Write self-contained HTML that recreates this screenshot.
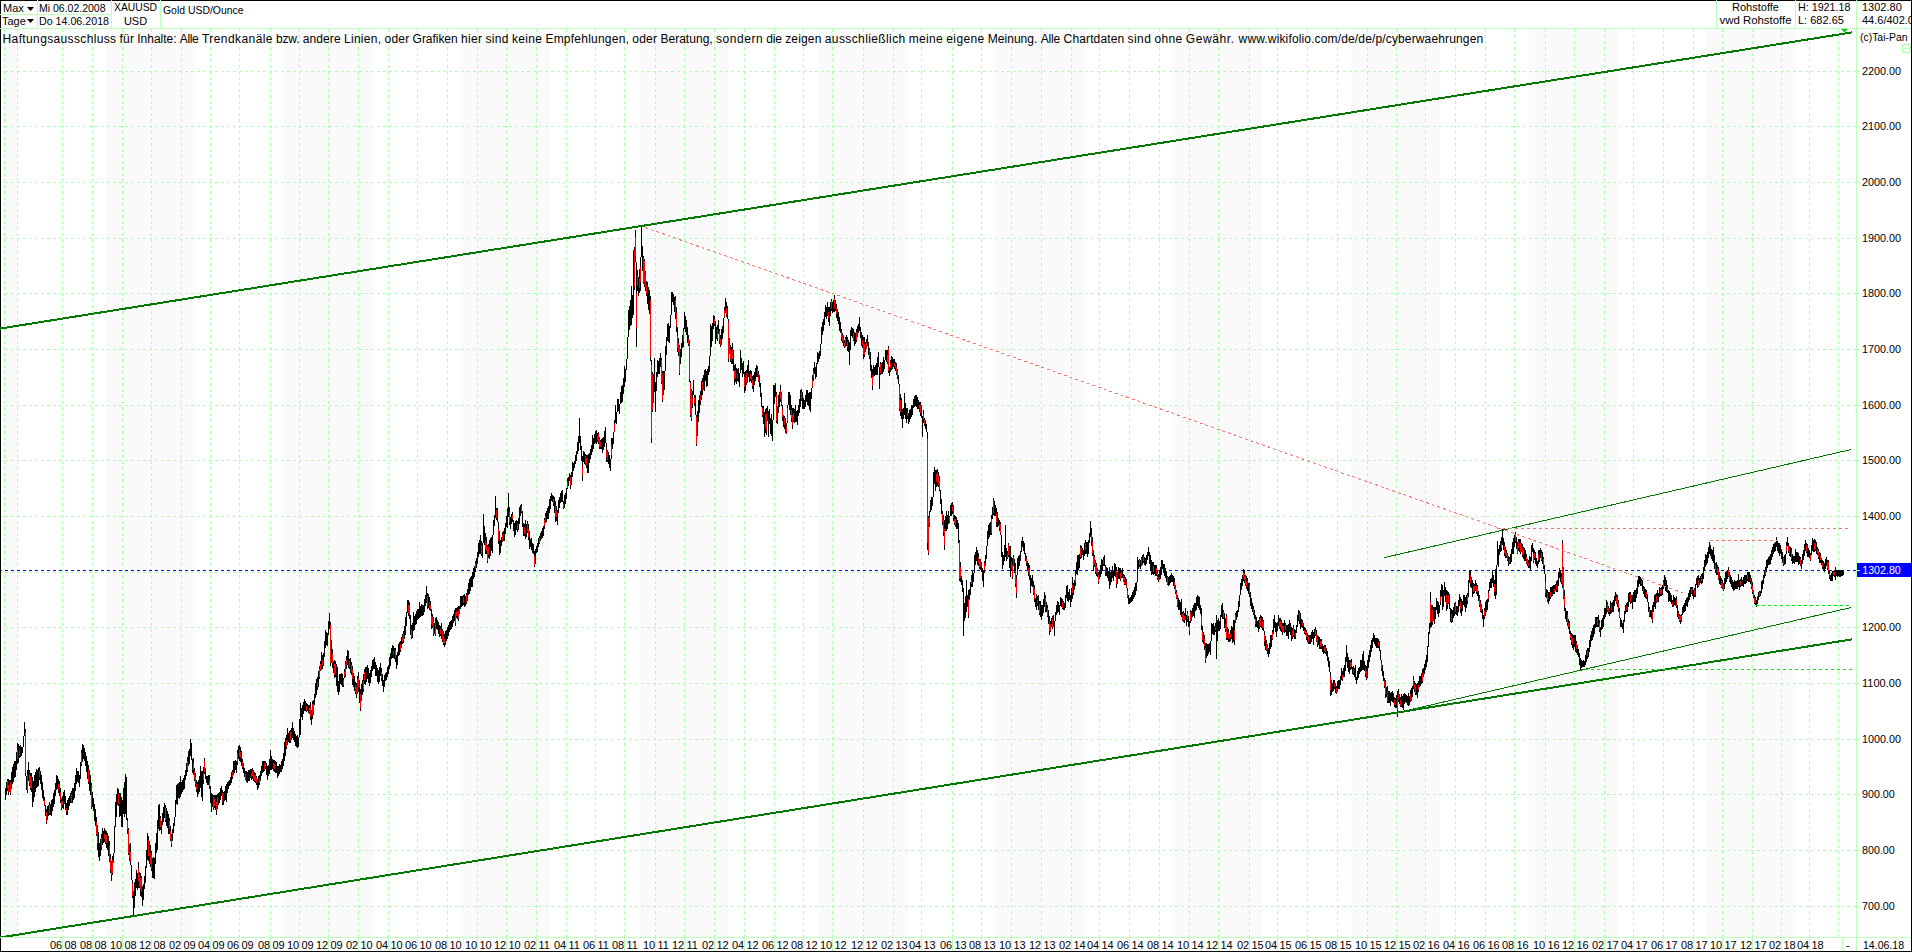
<!DOCTYPE html><html><head><meta charset="utf-8"><style>
html,body{margin:0;padding:0;background:#fff;}body{width:1912px;height:952px;overflow:hidden;position:relative;font-family:"Liberation Sans",sans-serif;}
svg{position:absolute;left:0;top:0;display:block}text{font-family:"Liberation Sans",sans-serif;}
</style></head><body>
<svg width="1912" height="952" viewBox="0 0 1912 952">
<rect x="0" y="0" width="1912" height="952" fill="#fff"/>
<path d="M0 0.5H1912M0.5 0V952M1911.5 0V952M0 951.5H1912" stroke="#000" stroke-width="1" fill="none" shape-rendering="crispEdges"/>
<rect x="3" y="29" width="15" height="908" fill="#fafafa"/>
<rect x="106" y="29" width="89" height="908" fill="#fafafa"/>
<rect x="283" y="29" width="89" height="908" fill="#fafafa"/>
<rect x="461" y="29" width="89" height="908" fill="#fafafa"/>
<rect x="639" y="29" width="90" height="908" fill="#fafafa"/>
<rect x="818" y="29" width="89" height="908" fill="#fafafa"/>
<rect x="996" y="29" width="89" height="908" fill="#fafafa"/>
<rect x="1173" y="29" width="89" height="908" fill="#fafafa"/>
<rect x="1351" y="29" width="89" height="908" fill="#fafafa"/>
<rect x="1529" y="29" width="89" height="908" fill="#fafafa"/>
<rect x="1706" y="29" width="89" height="908" fill="#fafafa"/>
<path d="M4.5 29V937M17.5 29V937M62.5 29V937M92.5 29V937M122.5 29V937M151.5 29V937M181.5 29V937M210.5 29V937M239.5 29V937M270.5 29V937M299.5 29V937M328.5 29V937M358.5 29V937M388.5 29V937M417.5 29V937M447.5 29V937M477.5 29V937M506.5 29V937M536.5 29V937M566.5 29V937M595.5 29V937M624.5 29V937M655.5 29V937M684.5 29V937M714.5 29V937M744.5 29V937M774.5 29V937M803.5 29V937M832.5 29V937M863.5 29V937M893.5 29V937M921.5 29V937M952.5 29V937M981.5 29V937M1011.5 29V937M1041.5 29V937M1071.5 29V937M1099.5 29V937M1129.5 29V937M1159.5 29V937M1189.5 29V937M1218.5 29V937M1249.5 29V937M1277.5 29V937M1307.5 29V937M1337.5 29V937M1367.5 29V937M1396.5 29V937M1425.5 29V937M1455.5 29V937M1485.5 29V937M1514.5 29V937M1545.5 29V937M1574.5 29V937M1604.5 29V937M1633.5 29V937M1663.5 29V937M1693.5 29V937M1722.5 29V937M1752.5 29V937M1781.5 29V937M1809.5 29V937M1838.5 29V937" stroke="#b0ffb0" stroke-width="1" stroke-dasharray="3 3" stroke-dashoffset="0" fill="none" shape-rendering="crispEdges"/>
<path d="M1 71.5H1857M1 126.5H1857M1 182.5H1857M1 238.5H1857M1 293.5H1857M1 349.5H1857M1 405.5H1857M1 460.5H1857M1 516.5H1857M1 572.5H1857M1 627.5H1857M1 683.5H1857M1 739.5H1857M1 794.5H1857M1 850.5H1857M1 906.5H1857" stroke="#b0ffb0" stroke-width="1" stroke-dasharray="3 3" stroke-dashoffset="-4" fill="none" shape-rendering="crispEdges"/>
<path d="M1857 71.5H1860M1857 126.5H1860M1857 182.5H1860M1857 238.5H1860M1857 293.5H1860M1857 349.5H1860M1857 405.5H1860M1857 460.5H1860M1857 516.5H1860M1857 572.5H1860M1857 627.5H1860M1857 683.5H1860M1857 739.5H1860M1857 794.5H1860M1857 850.5H1860M1857 906.5H1860" stroke="#b0ffb0" stroke-width="1" fill="none" shape-rendering="crispEdges"/>
<path d="M0 28.5H1911M1856.5 0V951M37.5 0V28M111.5 0V28M160.5 0V28M1716.5 0V28M1795.5 0V28M0 14.5H111" stroke="#bcffbc" stroke-width="1" fill="none" shape-rendering="crispEdges"/>
<rect x="1902.5" y="44.5" width="8" height="8" fill="none" stroke="#b0ffb0" shape-rendering="crispEdges"/><path d="M1904 48.5H1909" stroke="#b0ffb0" shape-rendering="crispEdges"/>
<line x1="1" y1="570.5" x2="1857" y2="570.5" stroke="#0000ff" stroke-width="1" stroke-dasharray="3 3" stroke-dashoffset="-4" shape-rendering="crispEdges"/>
<path d="M5.5 788V800M6.5 782V795M7.5 779V791M8.5 779V795M9.5 780V792M10.5 780V795M11.5 772V789M12.5 767V784M13.5 764V782M14.5 761V778M15.5 761V777M16.5 752V770M17.5 743V764M18.5 744V763M19.5 746V758M20.5 745V757M21.5 747V756M22.5 747V753M23.5 736V747M24.5 722V736M25.5 729V776M26.5 776V790M27.5 770V793M28.5 762V781M29.5 770V786M30.5 773V790M31.5 773V792M32.5 777V807M33.5 781V802M34.5 775V797M35.5 772V792M36.5 769V788M37.5 770V787M38.5 768V786M39.5 767V780M40.5 771V784M41.5 775V790M42.5 782V798M43.5 790V801M44.5 797V806M45.5 805V816M46.5 809V824M47.5 806V820M48.5 805V816M49.5 802V815M50.5 804V815M51.5 800V816M52.5 799V811M53.5 793V807M54.5 790V804M55.5 783V796M56.5 775V790M57.5 776V789M58.5 779V793M59.5 781V796M60.5 788V803M61.5 798V810M62.5 796V808M63.5 792V809M64.5 790V804M65.5 796V810M66.5 803V815M67.5 800V815M68.5 798V810M69.5 796V806M70.5 793V803M71.5 791V803M72.5 788V803M73.5 788V800M74.5 783V798M75.5 775V791M76.5 768V784M77.5 771V782M78.5 771V783M79.5 775V787M80.5 762V779M81.5 750V766M82.5 744V762M83.5 745V759M84.5 748V761M85.5 752V766M86.5 756V772M87.5 761V779M88.5 765V784M89.5 770V791M90.5 775V795M91.5 783V809M92.5 792V807M93.5 798V811M94.5 804V821M95.5 809V826M96.5 817V836M97.5 825V850M98.5 832V857M99.5 843V861M100.5 839V856M101.5 834V850M102.5 828V845M103.5 831V843M104.5 828V842M105.5 830V844M106.5 831V848M107.5 833V850M108.5 836V856M109.5 841V862M110.5 854V873M111.5 861V881M112.5 856V875M113.5 853V863M114.5 826V853M115.5 802V827M116.5 794V817M117.5 788V805M118.5 789V806M119.5 793V817M120.5 793V816M121.5 797V827M122.5 800V827M123.5 788V814M124.5 782V817M125.5 774V814M126.5 777V820M127.5 818V834M128.5 828V855M129.5 844V861M130.5 843V865M131.5 865V880M132.5 880V898M133.5 891V915M134.5 882V908M135.5 879V896M136.5 870V888M137.5 873V890M138.5 862V888M139.5 872V888M140.5 873V896M141.5 876V897M142.5 886V906M143.5 884V900M144.5 876V889M145.5 866V883M146.5 850V868M147.5 833V860M148.5 836V861M149.5 841V864M150.5 845V867M151.5 851V871M152.5 858V878M153.5 857V878M154.5 858V879M155.5 843V864M156.5 833V853M157.5 820V850M158.5 805V829M159.5 804V831M160.5 816V830M161.5 821V834M162.5 813V825M163.5 807V822M164.5 803V818M165.5 805V822M166.5 808V826M167.5 811V828M168.5 814V834M169.5 818V834M170.5 826V841M171.5 834V847M172.5 829V841M173.5 823V833M174.5 817V826M175.5 800V817M176.5 785V804M177.5 784V805M178.5 783V798M179.5 782V799M180.5 776V797M181.5 782V794M182.5 780V792M183.5 778V790M184.5 775V789M185.5 770V780M186.5 763V776M187.5 757V772M188.5 751V766M189.5 749V764M190.5 739V756M191.5 743V760M192.5 759V773M193.5 758V775M194.5 768V781M195.5 773V787M196.5 780V792M197.5 782V797M198.5 780V794M199.5 776V792M200.5 766V788M201.5 771V797M202.5 771V801M203.5 767V784M204.5 758V774M205.5 768V779M206.5 776V783M207.5 776V785M208.5 775V785M209.5 775V789M210.5 786V803M211.5 793V812M212.5 794V807M213.5 795V810M214.5 795V808M215.5 795V810M216.5 795V815M217.5 794V809M218.5 793V805M219.5 792V803M220.5 788V800M221.5 786V796M222.5 790V805M223.5 792V805M224.5 791V801M225.5 786V800M226.5 784V802M227.5 782V793M228.5 781V789M229.5 780V786M230.5 777V785M231.5 772V783M232.5 770V779M233.5 761V775M234.5 761V773M235.5 760V770M236.5 761V773M237.5 750V765M238.5 746V759M239.5 745V761M240.5 747V762M241.5 751V766M242.5 759V769M243.5 763V773M244.5 768V777M245.5 771V780M246.5 771V782M247.5 772V783M248.5 770V781M249.5 770V781M250.5 769V778M251.5 769V780M252.5 768V779M253.5 770V781M254.5 772V782M255.5 773V783M256.5 776V785M257.5 779V790M258.5 776V788M259.5 775V785M260.5 771V781M261.5 766V776M262.5 761V773M263.5 761V772M264.5 761V771M265.5 761V769M266.5 763V775M267.5 766V780M268.5 765V776M269.5 759V774M270.5 750V770M271.5 756V770M272.5 759V769M273.5 760V771M274.5 760V772M275.5 761V773M276.5 762V773M277.5 766V778M278.5 766V776M279.5 764V774M280.5 765V772M281.5 761V772M282.5 759V769M283.5 753V766M284.5 742V761M285.5 738V756M286.5 735V749M287.5 728V745M288.5 733V742M289.5 731V743M290.5 730V743M291.5 728V740M292.5 722V738M293.5 728V740M294.5 731V742M295.5 734V746M296.5 736V747M297.5 735V748M298.5 737V747M299.5 719V737M300.5 703V735M301.5 708V717M302.5 705V720M303.5 702V714M304.5 699V711M305.5 701V711M306.5 703V712M307.5 704V711M308.5 705V713M309.5 705V714M310.5 702V720M311.5 710V725M312.5 701V719M313.5 700V715M314.5 694V705M315.5 683V698M316.5 679V695M317.5 677V690M318.5 671V687M319.5 666V679M320.5 661V671M321.5 652V670M322.5 655V669M323.5 653V666M324.5 641V657M325.5 630V648M326.5 632V645M327.5 633V646M328.5 621V635M329.5 613V629M330.5 622V666M331.5 640V663M332.5 649V668M333.5 661V673M334.5 660V678M335.5 661V677M336.5 664V686M337.5 667V692M338.5 681V695M339.5 674V692M340.5 674V684M341.5 673V685M342.5 674V687M343.5 678V687M344.5 669V678M345.5 661V677M346.5 656V669M347.5 650V665M348.5 651V668M349.5 659V669M350.5 658V673M351.5 662V675M352.5 666V685M353.5 673V687M354.5 676V691M355.5 682V694M356.5 683V698M357.5 676V694M358.5 672V692M359.5 680V703M360.5 689V711M361.5 684V701M362.5 680V695M363.5 674V692M364.5 669V684M365.5 667V685M366.5 667V682M367.5 665V679M368.5 668V683M369.5 673V686M370.5 670V683M371.5 666V677M372.5 660V671M373.5 659V669M374.5 657V669M375.5 662V676M376.5 665V676M377.5 668V682M378.5 670V684M379.5 667V682M380.5 663V676M381.5 668V681M382.5 674V686M383.5 680V692M384.5 675V687M385.5 673V681M386.5 672V680M387.5 667V677M388.5 665V674M389.5 657V669M390.5 653V666M391.5 648V659M392.5 645V658M393.5 646V658M394.5 648V659M395.5 648V662M396.5 655V669M397.5 652V665M398.5 644V656M399.5 642V655M400.5 641V652M401.5 637V648M402.5 634V644M403.5 631V643M404.5 626V639M405.5 617V635M406.5 612V626M407.5 600V613M408.5 600V616M409.5 602V619M410.5 615V635M411.5 625V639M412.5 623V638M413.5 612V631M414.5 616V630M415.5 614V625M416.5 611V624M417.5 609V620M418.5 609V619M419.5 602V618M420.5 606V617M421.5 604V616M422.5 605V616M423.5 605V615M424.5 599V612M425.5 595V606M426.5 586V603M427.5 593V609M428.5 594V608M429.5 597V610M430.5 601V611M431.5 609V629M432.5 614V628M433.5 617V636M434.5 623V634M435.5 618V636M436.5 617V629M437.5 620V630M438.5 622V634M439.5 625V637M440.5 626V636M441.5 623V639M442.5 629V642M443.5 631V645M444.5 634V647M445.5 631V645M446.5 630V641M447.5 627V639M448.5 625V636M449.5 622V632M450.5 621V630M451.5 620V629M452.5 616V627M453.5 614V623M454.5 610V621M455.5 608V626M456.5 608V618M457.5 607V619M458.5 606V621M459.5 606V614M460.5 596V609M461.5 596V607M462.5 596V606M463.5 595V605M464.5 594V607M465.5 596V606M466.5 593V604M467.5 589V601M468.5 583V595M469.5 579V594M470.5 577V591M471.5 576V587M472.5 572V587M473.5 568V579M474.5 566V577M475.5 561V572M476.5 558V568M477.5 552V564M478.5 543V557M479.5 540V554M480.5 535V554M481.5 541V556M482.5 543V558M483.5 514V543M484.5 526V545M485.5 533V554M486.5 537V554M487.5 545V563M488.5 544V558M489.5 540V559M490.5 538V556M491.5 537V551M492.5 535V553M493.5 520V535M494.5 515V526M495.5 496V518M496.5 508V520M497.5 508V522M498.5 522V544M499.5 531V555M500.5 540V553M501.5 537V546M502.5 532V542M503.5 531V541M504.5 528V541M505.5 523V534M506.5 516V527M507.5 508V528M508.5 493V517M509.5 507V525M510.5 517V529M511.5 514V524M512.5 512V522M513.5 520V531M514.5 523V537M515.5 521V535M516.5 520V530M517.5 521V532M518.5 518V530M519.5 507V524M520.5 505V516M521.5 504V513M522.5 511V527M523.5 523V536M524.5 524V536M525.5 520V539M526.5 524V537M527.5 521V533M528.5 524V540M529.5 531V549M530.5 539V547M531.5 538V550M532.5 543V553M533.5 544V554M534.5 551V567M535.5 549V564M536.5 546V553M537.5 543V552M538.5 538V547M539.5 536V544M540.5 533V541M541.5 531V539M542.5 528V538M543.5 526V536M544.5 518V529M545.5 513V523M546.5 511V522M547.5 508V519M548.5 506V519M549.5 499V513M550.5 496V509M551.5 493V501M552.5 495V502M553.5 496V506M554.5 497V513M555.5 501V522M556.5 506V521M557.5 510V525M558.5 500V513M559.5 497V508M560.5 493V503M561.5 491V502M562.5 490V502M563.5 501V509M564.5 495V508M565.5 493V504M566.5 488V499M567.5 478V489M568.5 477V486M569.5 473V481M570.5 475V489M571.5 472V485M572.5 462V477M573.5 463V471M574.5 461V468M575.5 455V464M576.5 451V461M577.5 442V454M578.5 436V451M579.5 418V443M580.5 436V450M581.5 446V461M582.5 456V481M583.5 451V462M584.5 452V464M585.5 454V465M586.5 455V468M587.5 455V473M588.5 454V473M589.5 453V463M590.5 449V459M591.5 445V455M592.5 435V452M593.5 438V449M594.5 434V444M595.5 431V443M596.5 430V444M597.5 433V442M598.5 432V444M599.5 437V449M600.5 440V449M601.5 439V449M602.5 438V453M603.5 437V450M604.5 431V447M605.5 427V443M606.5 443V462M607.5 450V462M608.5 452V464M609.5 455V468M610.5 459V471M611.5 438V459M612.5 438V449M613.5 432V444M614.5 420V432M615.5 405V423M616.5 412V424M617.5 399V412M618.5 399V411M619.5 404V414M620.5 392V404M621.5 386V403M622.5 385V402M623.5 378V394M624.5 366V387M625.5 369V382M626.5 359V370M627.5 337V359M628.5 310V337M629.5 306V330M630.5 300V326M631.5 286V325M632.5 295V318M633.5 250V315M634.5 247V290M635.5 230V262M636.5 262V347M637.5 270V291M638.5 277V296M639.5 269V293M640.5 257V291M641.5 226V257M642.5 246V271M643.5 256V284M644.5 259V287M645.5 271V291M646.5 281V296M647.5 282V304M648.5 287V310M649.5 290V314M650.5 296V361M651.5 360V443M652.5 372V412M653.5 374V403M654.5 358V392M655.5 382V412M656.5 372V391M657.5 360V377M658.5 361V374M659.5 358V374M660.5 353V367M661.5 358V384M662.5 371V402M663.5 371V395M664.5 371V390M665.5 346V371M666.5 337V355M667.5 324V341M668.5 323V342M669.5 326V343M670.5 315V328M671.5 292V315M672.5 292V302M673.5 294V305M674.5 297V312M675.5 296V319M676.5 307V332M677.5 327V352M678.5 338V356M679.5 345V375M680.5 349V364M681.5 343V357M682.5 335V348M683.5 328V347M684.5 312V329M685.5 316V332M686.5 320V335M687.5 327V343M688.5 335V346M689.5 340V382M690.5 381V417M691.5 389V421M692.5 391V408M693.5 380V395M694.5 395V406M695.5 395V415M696.5 415V446M697.5 411V436M698.5 400V422M699.5 395V413M700.5 391V405M701.5 381V400M702.5 378V395M703.5 375V390M704.5 370V391M705.5 369V381M706.5 371V387M707.5 369V386M708.5 366V375M709.5 356V372M710.5 324V356M711.5 326V347M712.5 323V341M713.5 315V329M714.5 316V326M715.5 321V344M716.5 327V339M717.5 325V341M718.5 320V334M719.5 329V344M720.5 335V347M721.5 329V345M722.5 326V339M723.5 318V333M724.5 307V318M725.5 298V313M726.5 302V317M727.5 306V319M728.5 319V362M729.5 338V354M730.5 345V362M731.5 347V364M732.5 343V364M733.5 350V371M734.5 365V385M735.5 364V382M736.5 368V384M737.5 369V381M738.5 368V382M739.5 373V387M740.5 350V373M741.5 358V370M742.5 363V377M743.5 361V374M744.5 372V393M745.5 371V391M746.5 370V385M747.5 365V383M748.5 360V377M749.5 371V382M750.5 370V381M751.5 371V383M752.5 376V389M753.5 375V392M754.5 372V385M755.5 368V381M756.5 365V377M757.5 366V377M758.5 371V382M759.5 375V387M760.5 383V397M761.5 393V407M762.5 406V417M763.5 406V424M764.5 412V437M765.5 409V433M766.5 408V435M767.5 406V421M768.5 411V437M769.5 409V424M770.5 418V434M771.5 414V436M772.5 420V441M773.5 385V420M774.5 385V404M775.5 383V397M776.5 392V423M777.5 406V424M778.5 395V413M779.5 392V407M780.5 385V402M781.5 392V406M782.5 405V421M783.5 415V427M784.5 416V429M785.5 418V433M786.5 423V434M787.5 405V423M788.5 392V405M789.5 392V410M790.5 395V415M791.5 405V422M792.5 408V429M793.5 408V422M794.5 409V423M795.5 405V422M796.5 411V422M797.5 410V425M798.5 405V416M799.5 399V413M800.5 390V407M801.5 389V401M802.5 392V409M803.5 398V409M804.5 400V409M805.5 395V407M806.5 390V402M807.5 390V405M808.5 393V406M809.5 392V410M810.5 392V412M811.5 388V399M812.5 375V388M813.5 368V381M814.5 362V374M815.5 367V379M816.5 363V377M817.5 352V364M818.5 353V362M819.5 351V359M820.5 344V356M821.5 327V344M822.5 322V335M823.5 319V331M824.5 312V325M825.5 305V317M826.5 307V319M827.5 302V316M828.5 307V322M829.5 307V326M830.5 302V316M831.5 299V311M832.5 302V313M833.5 300V312M834.5 295V312M835.5 300V311M836.5 304V318M837.5 309V321M838.5 312V324M839.5 317V331M840.5 322V333M841.5 329V341M842.5 333V343M843.5 335V346M844.5 340V348M845.5 337V347M846.5 335V346M847.5 337V351M848.5 340V352M849.5 342V365M850.5 330V350M851.5 327V336M852.5 328V338M853.5 329V341M854.5 332V346M855.5 333V344M856.5 329V342M857.5 326V337M858.5 324V333M859.5 317V331M860.5 327V338M861.5 332V346M862.5 335V348M863.5 337V359M864.5 337V357M865.5 342V352M866.5 339V349M867.5 335V346M868.5 342V355M869.5 348V359M870.5 352V371M871.5 365V378M872.5 369V390M873.5 365V377M874.5 367V376M875.5 365V375M876.5 363V375M877.5 357V375M878.5 352V367M879.5 367V389M880.5 362V375M881.5 363V374M882.5 362V374M883.5 357V372M884.5 360V369M885.5 350V360M886.5 350V362M887.5 350V364M888.5 346V373M889.5 367V376M890.5 360V372M891.5 356V370M892.5 357V369M893.5 359V367M894.5 359V369M895.5 362V371M896.5 363V375M897.5 369V379M898.5 375V384M899.5 384V411M900.5 394V416M901.5 398V419M902.5 409V428M903.5 408V419M904.5 393V415M905.5 403V419M906.5 408V423M907.5 408V419M908.5 413V424M909.5 410V422M910.5 409V419M911.5 405V417M912.5 405V415M913.5 399V408M914.5 396V407M915.5 395V406M916.5 395V407M917.5 397V409M918.5 400V409M919.5 402V412M920.5 402V416M921.5 405V418M922.5 416V437M923.5 410V423M924.5 418V426M925.5 420V429M926.5 424V432M927.5 432V550M928.5 516V555M929.5 511V527M930.5 500V512M931.5 497V510M932.5 497V506M933.5 472V497M934.5 467V484M935.5 470V491M936.5 470V487M937.5 469V486M938.5 472V487M939.5 476V491M940.5 490V504M941.5 499V514M942.5 511V525M943.5 515V536M944.5 520V550M945.5 516V531M946.5 511V531M947.5 515V529M948.5 511V524M949.5 516V523M950.5 505V516M951.5 503V516M952.5 502V514M953.5 505V521M954.5 515V525M955.5 516V527M956.5 517V529M957.5 520V529M958.5 523V543M959.5 540V581M960.5 562V582M961.5 576V585M962.5 580V592M963.5 588V636M964.5 603V621M965.5 596V618M966.5 580V612M967.5 595V607M968.5 590V618M969.5 589V600M970.5 582V595M971.5 575V587M972.5 571V587M973.5 573V582M974.5 555V573M975.5 552V565M976.5 547V561M977.5 550V565M978.5 553V566M979.5 559V569M980.5 559V570M981.5 562V572M982.5 568V581M983.5 571V587M984.5 561V573M985.5 555V566M986.5 546V559M987.5 531V546M988.5 525V539M989.5 523V537M990.5 522V535M991.5 515V535M992.5 507V519M993.5 498V515M994.5 501V516M995.5 505V516M996.5 508V527M997.5 512V527M998.5 518V526M999.5 520V531M1000.5 522V535M1001.5 535V557M1002.5 552V569M1003.5 555V565M1004.5 545V561M1005.5 525V557M1006.5 548V561M1007.5 551V559M1008.5 543V557M1009.5 546V568M1010.5 546V577M1011.5 557V571M1012.5 558V579M1013.5 555V566M1014.5 559V573M1015.5 563V587M1016.5 575V598M1017.5 558V575M1018.5 556V569M1019.5 555V566M1020.5 551V561M1021.5 541V552M1022.5 537V547M1023.5 541V551M1024.5 543V554M1025.5 553V561M1026.5 556V566M1027.5 561V571M1028.5 563V576M1029.5 565V580M1030.5 575V593M1031.5 578V586M1032.5 575V587M1033.5 581V595M1034.5 585V602M1035.5 598V607M1036.5 594V610M1037.5 596V606M1038.5 595V610M1039.5 601V615M1040.5 601V617M1041.5 605V620M1042.5 605V616M1043.5 599V613M1044.5 592V607M1045.5 595V612M1046.5 602V612M1047.5 605V617M1048.5 610V624M1049.5 616V635M1050.5 621V632M1051.5 618V627M1052.5 616V629M1053.5 615V627M1054.5 621V636M1055.5 612V621M1056.5 605V615M1057.5 601V613M1058.5 602V612M1059.5 605V615M1060.5 597V606M1061.5 598V607M1062.5 599V609M1063.5 601V610M1064.5 603V610M1065.5 595V608M1066.5 586V598M1067.5 585V601M1068.5 592V602M1069.5 589V600M1070.5 595V607M1071.5 588V602M1072.5 577V599M1073.5 583V595M1074.5 580V590M1075.5 570V586M1076.5 562V574M1077.5 555V575M1078.5 555V570M1079.5 554V568M1080.5 545V559M1081.5 546V558M1082.5 548V555M1083.5 550V560M1084.5 543V556M1085.5 540V554M1086.5 542V554M1087.5 542V557M1088.5 540V554M1089.5 533V543M1090.5 521V537M1091.5 528V546M1092.5 537V556M1093.5 550V571M1094.5 555V567M1095.5 560V574M1096.5 563V576M1097.5 568V577M1098.5 572V584M1099.5 570V579M1100.5 565V577M1101.5 559V574M1102.5 560V571M1103.5 557V566M1104.5 555V566M1105.5 565V576M1106.5 567V576M1107.5 568V578M1108.5 571V581M1109.5 567V589M1110.5 572V585M1111.5 570V582M1112.5 566V578M1113.5 570V581M1114.5 563V576M1115.5 564V577M1116.5 567V588M1117.5 572V584M1118.5 567V579M1119.5 568V579M1120.5 568V581M1121.5 570V578M1122.5 568V578M1123.5 574V582M1124.5 575V585M1125.5 577V585M1126.5 579V588M1127.5 588V598M1128.5 595V604M1129.5 598V604M1130.5 597V603M1131.5 595V602M1132.5 592V601M1133.5 590V599M1134.5 587V597M1135.5 583V595M1136.5 582V591M1137.5 557V582M1138.5 560V569M1139.5 559V567M1140.5 560V569M1141.5 557V566M1142.5 555V565M1143.5 554V563M1144.5 557V565M1145.5 558V566M1146.5 555V564M1147.5 552V560M1148.5 547V556M1149.5 552V564M1150.5 555V571M1151.5 560V575M1152.5 562V574M1153.5 562V575M1154.5 565V574M1155.5 565V576M1156.5 565V576M1157.5 570V580M1158.5 574V582M1159.5 570V580M1160.5 567V579M1161.5 560V575M1162.5 560V569M1163.5 564V573M1164.5 564V576M1165.5 568V578M1166.5 571V582M1167.5 576V585M1168.5 577V586M1169.5 576V585M1170.5 575V583M1171.5 573V582M1172.5 575V582M1173.5 576V586M1174.5 578V589M1175.5 585V594M1176.5 590V599M1177.5 595V607M1178.5 598V610M1179.5 600V610M1180.5 602V615M1181.5 599V617M1182.5 612V621M1183.5 611V622M1184.5 613V623M1185.5 608V620M1186.5 615V626M1187.5 611V622M1188.5 616V627M1189.5 621V635M1190.5 610V623M1191.5 611V621M1192.5 608V617M1193.5 605V616M1194.5 603V618M1195.5 603V611M1196.5 597V610M1197.5 595V606M1198.5 596V608M1199.5 597V610M1200.5 605V614M1201.5 608V630M1202.5 626V642M1203.5 632V644M1204.5 635V650M1205.5 643V663M1206.5 643V658M1207.5 644V656M1208.5 644V654M1209.5 643V652M1210.5 641V655M1211.5 623V641M1212.5 624V634M1213.5 623V635M1214.5 626V635M1215.5 623V632M1216.5 615V659M1217.5 620V641M1218.5 618V631M1219.5 621V631M1220.5 615V629M1221.5 605V617M1222.5 603V619M1223.5 610V619M1224.5 613V628M1225.5 618V632M1226.5 614V640M1227.5 627V640M1228.5 629V642M1229.5 634V642M1230.5 630V641M1231.5 626V639M1232.5 627V643M1233.5 620V642M1234.5 620V645M1235.5 613V623M1236.5 611V620M1237.5 610V617M1238.5 601V612M1239.5 595V607M1240.5 583V595M1241.5 579V590M1242.5 575V586M1243.5 569V581M1244.5 570V583M1245.5 575V586M1246.5 576V589M1247.5 578V591M1248.5 583V594M1249.5 583V597M1250.5 592V606M1251.5 598V609M1252.5 603V612M1253.5 606V615M1254.5 610V619M1255.5 615V627M1256.5 617V627M1257.5 621V628M1258.5 620V632M1259.5 617V629M1260.5 615V627M1261.5 616V628M1262.5 617V630M1263.5 620V631M1264.5 631V646M1265.5 636V650M1266.5 640V651M1267.5 644V654M1268.5 648V657M1269.5 643V654M1270.5 635V649M1271.5 635V647M1272.5 630V640M1273.5 619V634M1274.5 615V628M1275.5 622V632M1276.5 623V637M1277.5 622V631M1278.5 615V626M1279.5 618V629M1280.5 618V631M1281.5 620V632M1282.5 623V635M1283.5 623V632M1284.5 620V633M1285.5 623V632M1286.5 625V636M1287.5 625V636M1288.5 624V639M1289.5 620V632M1290.5 623V635M1291.5 627V641M1292.5 628V639M1293.5 625V637M1294.5 629V639M1295.5 630V639M1296.5 625V633M1297.5 615V627M1298.5 610V621M1299.5 611V624M1300.5 613V629M1301.5 619V627M1302.5 620V628M1303.5 623V631M1304.5 627V634M1305.5 628V635M1306.5 630V640M1307.5 633V642M1308.5 635V644M1309.5 635V644M1310.5 635V644M1311.5 632V642M1312.5 630V639M1313.5 632V645M1314.5 629V638M1315.5 627V636M1316.5 630V642M1317.5 635V647M1318.5 636V645M1319.5 637V649M1320.5 639V649M1321.5 639V649M1322.5 644V652M1323.5 646V654M1324.5 645V653M1325.5 645V654M1326.5 648V656M1327.5 651V661M1328.5 657V667M1329.5 661V672M1330.5 672V696M1331.5 680V695M1332.5 683V692M1333.5 680V691M1334.5 680V689M1335.5 683V693M1336.5 686V694M1337.5 681V692M1338.5 680V689M1339.5 680V689M1340.5 676V685M1341.5 668V680M1342.5 671V681M1343.5 668V677M1344.5 665V677M1345.5 657V671M1346.5 645V662M1347.5 653V668M1348.5 657V672M1349.5 660V674M1350.5 660V670M1351.5 659V669M1352.5 667V674M1353.5 666V675M1354.5 668V677M1355.5 665V680M1356.5 677V684M1357.5 671V680M1358.5 668V678M1359.5 667V674M1360.5 660V672M1361.5 660V671M1362.5 654V670M1363.5 651V670M1364.5 661V671M1365.5 665V677M1366.5 666V680M1367.5 660V678M1368.5 655V668M1369.5 650V662M1370.5 645V657M1371.5 640V652M1372.5 638V648M1373.5 633V642M1374.5 635V644M1375.5 638V646M1376.5 638V648M1377.5 638V648M1378.5 639V648M1379.5 641V651M1380.5 650V660M1381.5 660V671M1382.5 665V676M1383.5 671V681M1384.5 678V688M1385.5 680V698M1386.5 687V697M1387.5 686V703M1388.5 691V703M1389.5 691V703M1390.5 693V706M1391.5 692V701M1392.5 691V702M1393.5 693V703M1394.5 697V707M1395.5 698V708M1396.5 695V708M1397.5 691V717M1398.5 689V702M1399.5 694V704M1400.5 697V707M1401.5 694V707M1402.5 696V708M1403.5 694V710M1404.5 693V704M1405.5 694V702M1406.5 695V703M1407.5 696V705M1408.5 693V706M1409.5 696V705M1410.5 690V702M1411.5 688V701M1412.5 686V697M1413.5 676V689M1414.5 681V692M1415.5 683V695M1416.5 684V695M1417.5 683V698M1418.5 681V692M1419.5 676V687M1420.5 676V686M1421.5 673V684M1422.5 669V683M1423.5 668V677M1424.5 664V674M1425.5 660V670M1426.5 655V667M1427.5 646V662M1428.5 632V647M1429.5 623V634M1430.5 592V628M1431.5 605V627M1432.5 605V625M1433.5 607V621M1434.5 607V624M1435.5 607V619M1436.5 598V610M1437.5 601V614M1438.5 602V617M1439.5 605V613M1440.5 590V605M1441.5 584V597M1442.5 585V610M1443.5 590V607M1444.5 582V596M1445.5 587V602M1446.5 590V611M1447.5 591V609M1448.5 592V604M1449.5 594V609M1450.5 608V622M1451.5 609V623M1452.5 610V622M1453.5 607V618M1454.5 603V616M1455.5 602V614M1456.5 606V615M1457.5 606V616M1458.5 600V612M1459.5 594V606M1460.5 597V613M1461.5 599V616M1462.5 601V611M1463.5 595V605M1464.5 595V607M1465.5 597V612M1466.5 595V608M1467.5 593V604M1468.5 580V597M1469.5 571V583M1470.5 570V587M1471.5 577V588M1472.5 580V597M1473.5 583V594M1474.5 584V593M1475.5 580V591M1476.5 583V594M1477.5 585V596M1478.5 591V601M1479.5 595V607M1480.5 600V612M1481.5 604V613M1482.5 609V619M1483.5 615V627M1484.5 608V619M1485.5 602V616M1486.5 600V612M1487.5 599V610M1488.5 590V602M1489.5 582V591M1490.5 579V588M1491.5 578V588M1492.5 570V583M1493.5 575V587M1494.5 580V596M1495.5 569V599M1496.5 565V595M1497.5 541V565M1498.5 549V567M1499.5 545V555M1500.5 541V552M1501.5 537V551M1502.5 529V545M1503.5 538V550M1504.5 542V556M1505.5 547V558M1506.5 550V558M1507.5 553V561M1508.5 556V566M1509.5 557V564M1510.5 554V564M1511.5 549V562M1512.5 542V554M1513.5 538V554M1514.5 535V547M1515.5 532V543M1516.5 537V549M1517.5 542V554M1518.5 539V551M1519.5 539V552M1520.5 539V554M1521.5 543V552M1522.5 544V557M1523.5 547V559M1524.5 548V561M1525.5 550V561M1526.5 554V564M1527.5 559V566M1528.5 560V568M1529.5 556V568M1530.5 557V570M1531.5 545V561M1532.5 543V552M1533.5 548V563M1534.5 550V560M1535.5 552V564M1536.5 558V566M1537.5 561V568M1538.5 550V564M1539.5 550V562M1540.5 548V558M1541.5 550V561M1542.5 552V564M1543.5 557V569M1544.5 565V574M1545.5 574V597M1546.5 589V598M1547.5 590V602M1548.5 592V604M1549.5 592V601M1550.5 587V599M1551.5 587V597M1552.5 586V596M1553.5 585V594M1554.5 585V594M1555.5 584V591M1556.5 581V592M1557.5 580V592M1558.5 572V586M1559.5 568V578M1560.5 570V582M1561.5 573V584M1562.5 540V588M1563.5 567V599M1564.5 590V611M1565.5 608V619M1566.5 611V622M1567.5 611V626M1568.5 619V629M1569.5 621V634M1570.5 631V640M1571.5 633V645M1572.5 634V648M1573.5 635V650M1574.5 635V647M1575.5 635V652M1576.5 641V653M1577.5 645V655M1578.5 649V657M1579.5 653V665M1580.5 658V670M1581.5 660V668M1582.5 661V667M1583.5 660V667M1584.5 661V667M1585.5 655V665M1586.5 650V662M1587.5 648V659M1588.5 648V657M1589.5 640V652M1590.5 635V647M1591.5 631V641M1592.5 628V640M1593.5 625V637M1594.5 624V634M1595.5 617V628M1596.5 617V627M1597.5 617V627M1598.5 615V627M1599.5 620V632M1600.5 627V637M1601.5 620V630M1602.5 618V629M1603.5 615V627M1604.5 608V619M1605.5 608V617M1606.5 600V614M1607.5 602V612M1608.5 606V614M1609.5 608V616M1610.5 601V614M1611.5 603V613M1612.5 602V612M1613.5 600V612M1614.5 596V606M1615.5 592V601M1616.5 594V604M1617.5 595V607M1618.5 600V612M1619.5 608V618M1620.5 618V627M1621.5 620V627M1622.5 623V629M1623.5 620V633M1624.5 611V622M1625.5 605V614M1626.5 603V612M1627.5 602V612M1628.5 593V607M1629.5 592V602M1630.5 592V604M1631.5 595V603M1632.5 595V609M1633.5 592V602M1634.5 590V602M1635.5 590V602M1636.5 588V598M1637.5 580V594M1638.5 576V587M1639.5 576V584M1640.5 577V586M1641.5 578V586M1642.5 580V591M1643.5 586V594M1644.5 587V597M1645.5 589V598M1646.5 590V599M1647.5 594V602M1648.5 602V612M1649.5 607V617M1650.5 610V617M1651.5 610V619M1652.5 605V623M1653.5 602V612M1654.5 595V607M1655.5 594V609M1656.5 593V603M1657.5 590V602M1658.5 593V602M1659.5 587V597M1660.5 588V596M1661.5 587V596M1662.5 585V595M1663.5 580V589M1664.5 575V586M1665.5 577V591M1666.5 580V592M1667.5 585V593M1668.5 590V602M1669.5 591V601M1670.5 593V602M1671.5 595V604M1672.5 600V607M1673.5 595V607M1674.5 597V605M1675.5 598V606M1676.5 596V608M1677.5 605V617M1678.5 611V619M1679.5 614V622M1680.5 615V624M1681.5 614V622M1682.5 607V615M1683.5 605V613M1684.5 603V612M1685.5 600V611M1686.5 598V606M1687.5 597V607M1688.5 593V602M1689.5 590V600M1690.5 587V597M1691.5 587V594M1692.5 587V596M1693.5 590V599M1694.5 588V597M1695.5 584V597M1696.5 578V585M1697.5 576V588M1698.5 575V587M1699.5 578V585M1700.5 576V583M1701.5 574V584M1702.5 573V583M1703.5 567V579M1704.5 560V571M1705.5 554V567M1706.5 555V565M1707.5 552V563M1708.5 547V558M1709.5 542V554M1710.5 545V556M1711.5 549V559M1712.5 550V561M1713.5 547V563M1714.5 555V569M1715.5 563V573M1716.5 562V575M1717.5 565V575M1718.5 567V580M1719.5 572V584M1720.5 576V585M1721.5 578V588M1722.5 580V589M1723.5 583V591M1724.5 578V589M1725.5 572V584M1726.5 571V582M1727.5 570V579M1728.5 567V577M1729.5 572V582M1730.5 575V584M1731.5 577V587M1732.5 580V589M1733.5 582V591M1734.5 580V590M1735.5 581V589M1736.5 581V589M1737.5 580V589M1738.5 574V587M1739.5 580V590M1740.5 579V587M1741.5 577V586M1742.5 580V586M1743.5 577V587M1744.5 575V584M1745.5 575V584M1746.5 575V583M1747.5 572V581M1748.5 572V582M1749.5 572V582M1750.5 575V584M1751.5 578V589M1752.5 582V594M1753.5 590V598M1754.5 595V604M1755.5 597V605M1756.5 600V607M1757.5 596V604M1758.5 592V600M1759.5 591V597M1760.5 591V596M1761.5 581V593M1762.5 580V589M1763.5 575V584M1764.5 571V578M1765.5 567V576M1766.5 560V572M1767.5 559V568M1768.5 557V565M1769.5 556V565M1770.5 554V564M1771.5 550V560M1772.5 547V557M1773.5 544V554M1774.5 543V552M1775.5 542V551M1776.5 537V547M1777.5 541V551M1778.5 543V553M1779.5 543V556M1780.5 545V554M1781.5 549V559M1782.5 552V563M1783.5 557V566M1784.5 555V565M1785.5 554V564M1786.5 542V554M1787.5 537V546M1788.5 543V553M1789.5 546V556M1790.5 547V557M1791.5 548V561M1792.5 554V564M1793.5 556V563M1794.5 556V564M1795.5 549V562M1796.5 552V562M1797.5 552V562M1798.5 553V565M1799.5 556V564M1800.5 557V566M1801.5 560V569M1802.5 554V564M1803.5 550V560M1804.5 544V556M1805.5 540V551M1806.5 543V553M1807.5 544V557M1808.5 548V557M1809.5 550V558M1810.5 553V561M1811.5 545V555M1812.5 538V551M1813.5 540V552M1814.5 539V552M1815.5 540V551M1816.5 542V554M1817.5 547V555M1818.5 549V559M1819.5 552V563M1820.5 553V563M1821.5 558V565M1822.5 560V569M1823.5 561V570M1824.5 563V572M1825.5 559V569M1826.5 557V566M1827.5 560V570M1828.5 560V574M1829.5 570V579M1830.5 575V581M1831.5 573V581M1832.5 571V581M1833.5 571V576M1834.5 570V577M1835.5 567V580M1836.5 570V576M1837.5 570V577M1838.5 570V576M1839.5 570V577M1840.5 570V577M1841.5 570V576M1842.5 570V576M1843.5 571V575" stroke="#000" stroke-width="1" fill="none" shape-rendering="crispEdges"/>
<path d="M7.5 781V788M8.5 785V792M10.5 782V793M17.5 750V759M19.5 750V756M25.5 732V773M27.5 775V790M29.5 774V783M30.5 776V788M31.5 780V788M39.5 771V777M44.5 800V805M46.5 812V822M49.5 805V813M58.5 784V790M60.5 792V800M61.5 801V808M62.5 801V805M66.5 808V812M71.5 794V802M81.5 753V764M88.5 770V782M91.5 785V807M96.5 822V834M97.5 832V843M101.5 838V847M104.5 834V839M105.5 835V842M106.5 835V843M109.5 846V859M110.5 859V870M111.5 865V875M112.5 860V873M118.5 794V804M127.5 821V830M128.5 830V853M129.5 851V858M130.5 852V861M132.5 883V896M138.5 868V881M139.5 875V886M140.5 878V889M141.5 879V892M148.5 840V856M150.5 853V864M151.5 855V868M160.5 818V827M165.5 808V820M169.5 821V829M170.5 831V839M171.5 837V844M187.5 761V769M193.5 763V770M194.5 771V779M195.5 777V784M196.5 784V789M203.5 773V780M204.5 761V772M209.5 780V786M213.5 797V808M214.5 799V806M216.5 802V810M217.5 797V805M222.5 793V801M232.5 772V777M237.5 753V762M239.5 750V756M240.5 752V758M242.5 762V767M245.5 774V779M251.5 773V777M252.5 770V776M253.5 774V779M254.5 775V781M255.5 775V781M256.5 778V783M259.5 779V783M264.5 763V770M265.5 763V767M273.5 763V768M274.5 764V769M286.5 740V747M290.5 732V740M306.5 706V711M309.5 708V712M310.5 707V717M312.5 704V715M313.5 704V712M317.5 682V687M319.5 669V677M320.5 664V670M322.5 660V665M330.5 625V663M332.5 654V663M334.5 664V675M335.5 664V673M343.5 680V685M344.5 672V676M345.5 664V674M346.5 660V665M349.5 661V667M351.5 665V672M352.5 670V679M355.5 685V692M356.5 687V694M357.5 679V692M358.5 678V687M360.5 694V708M363.5 681V689M364.5 672V680M381.5 672V678M393.5 651V655M395.5 650V658M400.5 644V650M402.5 637V642M403.5 634V640M408.5 605V613M409.5 605V614M411.5 630V637M427.5 596V606M429.5 602V608M430.5 605V609M431.5 616V624M432.5 617V626M433.5 621V634M435.5 623V634M440.5 629V634M442.5 631V640M443.5 636V643M444.5 639V643M455.5 613V623M456.5 611V616M458.5 611V618M459.5 609V613M463.5 597V603M466.5 595V603M475.5 563V569M481.5 545V554M485.5 541V549M486.5 543V551M487.5 549V561M488.5 547V555M496.5 510V518M498.5 529V541M502.5 534V541M509.5 512V522M512.5 515V519M517.5 524V529M521.5 507V512M524.5 527V534M527.5 524V531M528.5 529V537M534.5 556V565M539.5 538V543M544.5 520V526M545.5 516V520M553.5 499V503M555.5 505V516M556.5 511V517M563.5 504V508M567.5 482V488M570.5 477V485M582.5 466V475M585.5 456V463M586.5 458V465M597.5 436V440M598.5 434V442M599.5 439V447M600.5 442V447M606.5 450V457M607.5 453V460M611.5 445V455M614.5 424V431M634.5 250V287M635.5 237V256M636.5 293V328M637.5 276V286M639.5 278V288M640.5 267V282M643.5 258V282M644.5 261V285M645.5 274V287M646.5 285V294M650.5 300V357M651.5 365V438M652.5 374V410M661.5 360V382M662.5 373V400M675.5 300V313M676.5 313V326M677.5 336V348M678.5 343V352M679.5 347V373M683.5 331V341M688.5 339V344M689.5 343V379M690.5 383V415M691.5 391V419M692.5 398V404M694.5 398V403M696.5 417V444M700.5 395V401M702.5 382V390M714.5 319V324M717.5 330V338M719.5 331V340M720.5 339V345M724.5 310V317M726.5 308V314M728.5 322V359M729.5 344V351M730.5 350V359M731.5 352V361M732.5 349V359M734.5 371V379M735.5 370V378M737.5 374V378M744.5 377V387M746.5 373V383M750.5 374V379M751.5 375V380M752.5 380V386M757.5 369V374M758.5 374V381M762.5 408V415M765.5 415V428M766.5 413V431M776.5 394V421M780.5 390V399M781.5 394V404M782.5 409V417M784.5 418V425M786.5 426V433M787.5 408V421M791.5 410V418M792.5 415V425M793.5 413V420M801.5 392V399M812.5 380V387M813.5 372V378M828.5 312V318M831.5 301V309M834.5 299V309M836.5 308V314M841.5 332V338M842.5 335V341M843.5 338V343M844.5 343V347M845.5 339V345M847.5 342V347M853.5 333V340M856.5 332V340M862.5 340V345M863.5 344V354M864.5 344V355M866.5 342V348M869.5 350V356M872.5 375V386M880.5 364V373M887.5 355V362M888.5 348V371M890.5 363V368M894.5 363V366M895.5 365V368M896.5 367V372M897.5 371V377M899.5 386V409M900.5 400V412M907.5 412V416M919.5 405V409M920.5 405V413M923.5 414V420M924.5 420V424M927.5 439V543M928.5 518V553M929.5 516V523M936.5 474V482M937.5 472V482M938.5 476V485M939.5 481V489M942.5 514V522M943.5 520V532M944.5 529V545M949.5 517V522M952.5 506V511M953.5 510V518M954.5 519V523M955.5 519V525M959.5 542V579M960.5 567V578M968.5 599V615M971.5 580V584M978.5 557V563M979.5 561V567M980.5 561V567M984.5 563V570M991.5 519V533M993.5 501V513M996.5 513V522M999.5 524V528M1000.5 524V533M1007.5 554V558M1008.5 545V555M1011.5 562V569M1012.5 565V577M1013.5 557V565M1015.5 571V584M1016.5 579V593M1026.5 558V563M1028.5 568V572M1029.5 570V576M1033.5 586V593M1034.5 589V599M1037.5 600V603M1039.5 604V613M1045.5 598V609M1047.5 608V616M1049.5 621V631M1050.5 624V631M1052.5 619V627M1062.5 602V608M1072.5 585V593M1075.5 576V582M1080.5 548V557M1085.5 544V550M1091.5 535V541M1092.5 542V553M1093.5 555V566M1094.5 557V565M1095.5 564V572M1096.5 566V573M1097.5 570V575M1098.5 575V582M1103.5 560V564M1105.5 567V573M1116.5 571V584M1120.5 573V579M1121.5 572V576M1123.5 576V581M1124.5 578V584M1126.5 582V587M1127.5 591V597M1139.5 560V565M1141.5 559V565M1143.5 557V561M1153.5 566V572M1156.5 568V574M1157.5 573V578M1158.5 577V580M1167.5 577V584M1174.5 582V587M1175.5 587V592M1176.5 592V598M1177.5 598V605M1182.5 614V620M1183.5 613V621M1184.5 616V620M1187.5 613V619M1189.5 626V631M1190.5 612V621M1201.5 616V625M1202.5 632V640M1204.5 639V646M1205.5 648V660M1215.5 627V630M1223.5 612V618M1225.5 624V629M1226.5 616V638M1228.5 632V639M1230.5 634V638M1234.5 630V640M1235.5 615V621M1243.5 573V578M1244.5 573V580M1245.5 577V584M1246.5 581V587M1249.5 585V594M1253.5 609V613M1255.5 619V624M1259.5 619V626M1260.5 618V626M1262.5 621V628M1263.5 622V628M1264.5 635V642M1266.5 643V650M1267.5 647V651M1272.5 632V639M1279.5 622V626M1280.5 621V627M1281.5 624V629M1282.5 626V632M1283.5 626V631M1285.5 625V630M1292.5 631V637M1293.5 628V635M1295.5 633V636M1299.5 613V620M1302.5 622V626M1304.5 630V633M1305.5 631V633M1306.5 632V637M1308.5 637V642M1315.5 630V635M1316.5 634V641M1317.5 639V644M1320.5 641V647M1321.5 641V646M1324.5 647V651M1325.5 648V652M1330.5 677V690M1334.5 683V687M1336.5 688V693M1342.5 675V679M1350.5 662V667M1351.5 663V666M1353.5 669V673M1365.5 668V674M1366.5 671V677M1378.5 642V646M1381.5 663V669M1384.5 681V686M1385.5 686V694M1387.5 691V701M1394.5 700V705M1397.5 698V710M1398.5 694V699M1400.5 700V706M1410.5 694V701M1413.5 680V685M1414.5 684V689M1415.5 687V693M1418.5 685V690M1422.5 673V681M1430.5 602V622M1432.5 610V622M1440.5 596V602M1446.5 595V605M1448.5 595V603M1451.5 614V621M1455.5 604V612M1460.5 602V609M1467.5 595V601M1470.5 575V583M1473.5 586V592M1474.5 586V591M1476.5 586V592M1477.5 589V593M1479.5 598V605M1480.5 603V611M1481.5 607V611M1484.5 610V617M1488.5 593V599M1494.5 584V592M1501.5 543V548M1504.5 546V553M1505.5 551V555M1506.5 553V556M1507.5 555V560M1509.5 559V563M1515.5 534V541M1517.5 546V553M1518.5 542V548M1520.5 543V552M1521.5 546V550M1522.5 548V555M1523.5 550V555M1526.5 557V563M1527.5 560V564M1528.5 563V566M1533.5 554V561M1534.5 553V558M1538.5 555V560M1541.5 553V560M1543.5 559V566M1545.5 582V593M1547.5 593V600M1550.5 592V597M1554.5 589V592M1556.5 585V590M1561.5 577V582M1562.5 543V585M1563.5 569V597M1564.5 596V606M1567.5 615V623M1568.5 623V627M1570.5 634V638M1571.5 636V642M1572.5 638V644M1576.5 643V649M1587.5 651V656M1597.5 619V625M1599.5 623V630M1607.5 604V611M1608.5 608V612M1611.5 605V610M1616.5 597V603M1617.5 598V604M1618.5 603V609M1619.5 611V617M1626.5 606V610M1630.5 594V602M1641.5 581V584M1643.5 588V592M1646.5 592V597M1649.5 609V615M1652.5 611V620M1656.5 596V602M1660.5 589V594M1661.5 590V594M1663.5 582V587M1667.5 588V591M1672.5 602V605M1676.5 600V606M1678.5 613V617M1679.5 616V621M1680.5 616V621M1681.5 616V620M1691.5 589V593M1694.5 590V595M1698.5 580V586M1701.5 576V581M1715.5 565V570M1717.5 568V573M1718.5 570V579M1721.5 581V587M1722.5 583V588M1723.5 586V590M1728.5 570V576M1729.5 575V581M1740.5 581V585M1747.5 575V579M1750.5 578V581M1751.5 582V587M1752.5 586V592M1753.5 591V597M1754.5 598V603M1755.5 600V603M1759.5 592V596M1765.5 570V575M1783.5 558V564M1786.5 546V551M1788.5 546V551M1789.5 549V554M1791.5 551V559M1800.5 559V565M1806.5 545V551M1810.5 555V560M1814.5 543V550M1815.5 543V549M1817.5 549V553M1818.5 551V557M1820.5 556V560M1822.5 563V567M1827.5 562V568M1828.5 562V571M1829.5 573V577M1833.5 572V575M1834.5 572V575" stroke="#f00" stroke-width="1" fill="none" shape-rendering="crispEdges"/>
<line x1="0" y1="328.58" x2="1852" y2="32.39" stroke="#007800" stroke-width="2" shape-rendering="crispEdges"/>
<line x1="0" y1="937.52" x2="1852" y2="639.33" stroke="#007800" stroke-width="2" shape-rendering="crispEdges"/>
<line x1="1384" y1="557.69" x2="1851" y2="449.54" stroke="#007800" stroke-width="1" shape-rendering="crispEdges"/>
<line x1="1403" y1="711.4" x2="1851" y2="607.54" stroke="#007800" stroke-width="1" shape-rendering="crispEdges"/>
<line x1="645" y1="227.5" x2="1686" y2="594" stroke="#ff7070" stroke-width="1" stroke-dasharray="3 3" shape-rendering="crispEdges"/>
<line x1="1497" y1="528.5" x2="1851" y2="528.5" stroke="#ff7070" stroke-width="1" stroke-dasharray="3 3" shape-rendering="crispEdges"/>
<line x1="1710" y1="540.5" x2="1777" y2="540.5" stroke="#ff7070" stroke-width="1" stroke-dasharray="3 3" shape-rendering="crispEdges"/>
<line x1="1756" y1="605.5" x2="1851" y2="605.5" stroke="#00f000" stroke-width="1" stroke-dasharray="3 3" shape-rendering="crispEdges"/>
<line x1="1585" y1="669.5" x2="1855" y2="669.5" stroke="#00f000" stroke-width="1" stroke-dasharray="3 3" shape-rendering="crispEdges"/>
<path d="M1841 29H1848L1844.5 32.5Z" fill="#20c020"/>
<path d="M0 937.5H1911M62.5 937V951M92.5 937V951M122.5 937V951M151.5 937V951M181.5 937V951M210.5 937V951M239.5 937V951M270.5 937V951M299.5 937V951M328.5 937V951M358.5 937V951M388.5 937V951M417.5 937V951M447.5 937V951M477.5 937V951M506.5 937V951M536.5 937V951M566.5 937V951M595.5 937V951M624.5 937V951M655.5 937V951M684.5 937V951M714.5 937V951M744.5 937V951M774.5 937V951M803.5 937V951M832.5 937V951M863.5 937V951M893.5 937V951M921.5 937V951M952.5 937V951M981.5 937V951M1011.5 937V951M1041.5 937V951M1071.5 937V951M1099.5 937V951M1129.5 937V951M1159.5 937V951M1189.5 937V951M1218.5 937V951M1249.5 937V951M1277.5 937V951M1307.5 937V951M1337.5 937V951M1367.5 937V951M1396.5 937V951M1425.5 937V951M1455.5 937V951M1485.5 937V951M1514.5 937V951M1545.5 937V951M1574.5 937V951M1604.5 937V951M1633.5 937V951M1663.5 937V951M1693.5 937V951M1722.5 937V951M1752.5 937V951M1781.5 937V951M1809.5 937V951M1842.5 937V951" stroke="#bcffbc" stroke-width="1" fill="none" shape-rendering="crispEdges"/>
<text x="1862" y="75" font-size="11" fill="#000" textLength="39.1" lengthAdjust="spacingAndGlyphs">2200.00</text>
<text x="1862" y="130" font-size="11" fill="#000" textLength="39.1" lengthAdjust="spacingAndGlyphs">2100.00</text>
<text x="1862" y="186" font-size="11" fill="#000" textLength="39.1" lengthAdjust="spacingAndGlyphs">2000.00</text>
<text x="1862" y="242" font-size="11" fill="#000" textLength="39.1" lengthAdjust="spacingAndGlyphs">1900.00</text>
<text x="1862" y="297" font-size="11" fill="#000" textLength="39.1" lengthAdjust="spacingAndGlyphs">1800.00</text>
<text x="1862" y="353" font-size="11" fill="#000" textLength="39.1" lengthAdjust="spacingAndGlyphs">1700.00</text>
<text x="1862" y="409" font-size="11" fill="#000" textLength="39.1" lengthAdjust="spacingAndGlyphs">1600.00</text>
<text x="1862" y="464" font-size="11" fill="#000" textLength="39.1" lengthAdjust="spacingAndGlyphs">1500.00</text>
<text x="1862" y="520" font-size="11" fill="#000" textLength="39.1" lengthAdjust="spacingAndGlyphs">1400.00</text>
<text x="1862" y="576" font-size="11" fill="#000" textLength="39.1" lengthAdjust="spacingAndGlyphs">1300.00</text>
<text x="1862" y="631" font-size="11" fill="#000" textLength="39.1" lengthAdjust="spacingAndGlyphs">1200.00</text>
<text x="1862" y="687" font-size="11" fill="#000" textLength="39.1" lengthAdjust="spacingAndGlyphs">1100.00</text>
<text x="1862" y="743" font-size="11" fill="#000" textLength="39.1" lengthAdjust="spacingAndGlyphs">1000.00</text>
<text x="1862" y="798" font-size="11" fill="#000" textLength="32.8" lengthAdjust="spacingAndGlyphs">900.00</text>
<text x="1862" y="854" font-size="11" fill="#000" textLength="32.8" lengthAdjust="spacingAndGlyphs">800.00</text>
<text x="1862" y="910" font-size="11" fill="#000" textLength="32.8" lengthAdjust="spacingAndGlyphs">700.00</text>
<rect x="1857" y="563" width="54" height="14" fill="#0000ff"/>
<path d="M1857 570.5H1860" stroke="#fff" shape-rendering="crispEdges"/>
<text x="1862.3" y="573.7" font-size="11" fill="#fff" textLength="38.4" lengthAdjust="spacingAndGlyphs">1302.80</text>
<text x="62.2" y="949" font-size="11" text-anchor="end">06</text>
<text x="64.5" y="949" font-size="11">08</text>
<text x="92.2" y="949" font-size="11" text-anchor="end">08</text>
<text x="94.5" y="949" font-size="11">08</text>
<text x="122.2" y="949" font-size="11" text-anchor="end">10</text>
<text x="124.5" y="949" font-size="11">08</text>
<text x="151.2" y="949" font-size="11" text-anchor="end">12</text>
<text x="153.5" y="949" font-size="11">08</text>
<text x="181.2" y="949" font-size="11" text-anchor="end">02</text>
<text x="183.5" y="949" font-size="11">09</text>
<text x="210.2" y="949" font-size="11" text-anchor="end">04</text>
<text x="212.5" y="949" font-size="11">09</text>
<text x="239.2" y="949" font-size="11" text-anchor="end">06</text>
<text x="241.5" y="949" font-size="11">09</text>
<text x="270.2" y="949" font-size="11" text-anchor="end">08</text>
<text x="272.5" y="949" font-size="11">09</text>
<text x="299.2" y="949" font-size="11" text-anchor="end">10</text>
<text x="301.5" y="949" font-size="11">09</text>
<text x="328.2" y="949" font-size="11" text-anchor="end">12</text>
<text x="330.5" y="949" font-size="11">09</text>
<text x="358.2" y="949" font-size="11" text-anchor="end">02</text>
<text x="360.5" y="949" font-size="11">10</text>
<text x="388.2" y="949" font-size="11" text-anchor="end">04</text>
<text x="390.5" y="949" font-size="11">10</text>
<text x="417.2" y="949" font-size="11" text-anchor="end">06</text>
<text x="419.5" y="949" font-size="11">10</text>
<text x="447.2" y="949" font-size="11" text-anchor="end">08</text>
<text x="449.5" y="949" font-size="11">10</text>
<text x="477.2" y="949" font-size="11" text-anchor="end">10</text>
<text x="479.5" y="949" font-size="11">10</text>
<text x="506.2" y="949" font-size="11" text-anchor="end">12</text>
<text x="508.5" y="949" font-size="11">10</text>
<text x="536.2" y="949" font-size="11" text-anchor="end">02</text>
<text x="538.5" y="949" font-size="11">11</text>
<text x="566.2" y="949" font-size="11" text-anchor="end">04</text>
<text x="568.5" y="949" font-size="11">11</text>
<text x="595.2" y="949" font-size="11" text-anchor="end">06</text>
<text x="597.5" y="949" font-size="11">11</text>
<text x="624.2" y="949" font-size="11" text-anchor="end">08</text>
<text x="626.5" y="949" font-size="11">11</text>
<text x="655.2" y="949" font-size="11" text-anchor="end">10</text>
<text x="657.5" y="949" font-size="11">11</text>
<text x="684.2" y="949" font-size="11" text-anchor="end">12</text>
<text x="686.5" y="949" font-size="11">11</text>
<text x="714.2" y="949" font-size="11" text-anchor="end">02</text>
<text x="716.5" y="949" font-size="11">12</text>
<text x="744.2" y="949" font-size="11" text-anchor="end">04</text>
<text x="746.5" y="949" font-size="11">12</text>
<text x="774.2" y="949" font-size="11" text-anchor="end">06</text>
<text x="776.5" y="949" font-size="11">12</text>
<text x="803.2" y="949" font-size="11" text-anchor="end">08</text>
<text x="805.5" y="949" font-size="11">12</text>
<text x="832.2" y="949" font-size="11" text-anchor="end">10</text>
<text x="834.5" y="949" font-size="11">12</text>
<text x="863.2" y="949" font-size="11" text-anchor="end">12</text>
<text x="865.5" y="949" font-size="11">12</text>
<text x="893.2" y="949" font-size="11" text-anchor="end">02</text>
<text x="895.5" y="949" font-size="11">13</text>
<text x="921.2" y="949" font-size="11" text-anchor="end">04</text>
<text x="923.5" y="949" font-size="11">13</text>
<text x="952.2" y="949" font-size="11" text-anchor="end">06</text>
<text x="954.5" y="949" font-size="11">13</text>
<text x="981.2" y="949" font-size="11" text-anchor="end">08</text>
<text x="983.5" y="949" font-size="11">13</text>
<text x="1011.2" y="949" font-size="11" text-anchor="end">10</text>
<text x="1013.5" y="949" font-size="11">13</text>
<text x="1041.2" y="949" font-size="11" text-anchor="end">12</text>
<text x="1043.5" y="949" font-size="11">13</text>
<text x="1071.2" y="949" font-size="11" text-anchor="end">02</text>
<text x="1073.5" y="949" font-size="11">14</text>
<text x="1099.2" y="949" font-size="11" text-anchor="end">04</text>
<text x="1101.5" y="949" font-size="11">14</text>
<text x="1129.2" y="949" font-size="11" text-anchor="end">06</text>
<text x="1131.5" y="949" font-size="11">14</text>
<text x="1159.2" y="949" font-size="11" text-anchor="end">08</text>
<text x="1161.5" y="949" font-size="11">14</text>
<text x="1189.2" y="949" font-size="11" text-anchor="end">10</text>
<text x="1191.5" y="949" font-size="11">14</text>
<text x="1218.2" y="949" font-size="11" text-anchor="end">12</text>
<text x="1220.5" y="949" font-size="11">14</text>
<text x="1249.2" y="949" font-size="11" text-anchor="end">02</text>
<text x="1251.5" y="949" font-size="11">15</text>
<text x="1277.2" y="949" font-size="11" text-anchor="end">04</text>
<text x="1279.5" y="949" font-size="11">15</text>
<text x="1307.2" y="949" font-size="11" text-anchor="end">06</text>
<text x="1309.5" y="949" font-size="11">15</text>
<text x="1337.2" y="949" font-size="11" text-anchor="end">08</text>
<text x="1339.5" y="949" font-size="11">15</text>
<text x="1367.2" y="949" font-size="11" text-anchor="end">10</text>
<text x="1369.5" y="949" font-size="11">15</text>
<text x="1396.2" y="949" font-size="11" text-anchor="end">12</text>
<text x="1398.5" y="949" font-size="11">15</text>
<text x="1425.2" y="949" font-size="11" text-anchor="end">02</text>
<text x="1427.5" y="949" font-size="11">16</text>
<text x="1455.2" y="949" font-size="11" text-anchor="end">04</text>
<text x="1457.5" y="949" font-size="11">16</text>
<text x="1485.2" y="949" font-size="11" text-anchor="end">06</text>
<text x="1487.5" y="949" font-size="11">16</text>
<text x="1514.2" y="949" font-size="11" text-anchor="end">08</text>
<text x="1516.5" y="949" font-size="11">16</text>
<text x="1545.2" y="949" font-size="11" text-anchor="end">10</text>
<text x="1547.5" y="949" font-size="11">16</text>
<text x="1574.2" y="949" font-size="11" text-anchor="end">12</text>
<text x="1576.5" y="949" font-size="11">16</text>
<text x="1604.2" y="949" font-size="11" text-anchor="end">02</text>
<text x="1606.5" y="949" font-size="11">17</text>
<text x="1633.2" y="949" font-size="11" text-anchor="end">04</text>
<text x="1635.5" y="949" font-size="11">17</text>
<text x="1663.2" y="949" font-size="11" text-anchor="end">06</text>
<text x="1665.5" y="949" font-size="11">17</text>
<text x="1693.2" y="949" font-size="11" text-anchor="end">08</text>
<text x="1695.5" y="949" font-size="11">17</text>
<text x="1722.2" y="949" font-size="11" text-anchor="end">10</text>
<text x="1724.5" y="949" font-size="11">17</text>
<text x="1752.2" y="949" font-size="11" text-anchor="end">12</text>
<text x="1754.5" y="949" font-size="11">17</text>
<text x="1781.2" y="949" font-size="11" text-anchor="end">02</text>
<text x="1783.5" y="949" font-size="11">18</text>
<text x="1809.2" y="949" font-size="11" text-anchor="end">04</text>
<text x="1811.5" y="949" font-size="11">18</text>
<text x="1846" y="949" font-size="11">-</text>
<text x="1863" y="949" font-size="11" textLength="41" lengthAdjust="spacingAndGlyphs">14.06.18</text>
<text x="3" y="11.5" font-size="11">Max</text><path d="M27 7H34L30.5 11Z" fill="#000"/>
<text x="2" y="24.5" font-size="11">Tage</text><path d="M27 19H34L30.5 23Z" fill="#000"/>
<text x="39" y="11.5" font-size="11" textLength="66.5" lengthAdjust="spacingAndGlyphs">Mi 06.02.2008</text>
<text x="39" y="25" font-size="11" textLength="70" lengthAdjust="spacingAndGlyphs">Do 14.06.2018</text>
<text x="135.5" y="11" font-size="11" text-anchor="middle" textLength="43" lengthAdjust="spacingAndGlyphs">XAUUSD</text>
<text x="135.5" y="24.5" font-size="11" text-anchor="middle">USD</text>
<text x="163" y="13.5" font-size="11" textLength="80.5" lengthAdjust="spacingAndGlyphs">Gold USD/Ounce</text>
<text x="1755.5" y="10.8" font-size="11" text-anchor="middle">Rohstoffe</text>
<text x="1755.5" y="23.8" font-size="11" text-anchor="middle" textLength="72" lengthAdjust="spacingAndGlyphs">vwd Rohstoffe</text>
<text x="1798" y="10.8" font-size="11" textLength="52.4" lengthAdjust="spacingAndGlyphs">H: 1921.18</text>
<text x="1798" y="23.8" font-size="11">L: 682.65</text>
<text x="1862" y="10.8" font-size="11">1302.80</text>
<text x="1862" y="23.8" font-size="11">44.6/402.0</text>
<text x="1860" y="41" font-size="11" textLength="47.5" lengthAdjust="spacingAndGlyphs">(c)Tai-Pan</text>
<text y="42.7" font-size="12"><tspan x="2.6" textLength="113.5" lengthAdjust="spacing">Haftungsausschluss</tspan><tspan x="119.6" textLength="14.3" lengthAdjust="spacing">für</tspan><tspan x="137.3" textLength="39.2" lengthAdjust="spacing">Inhalte:</tspan><tspan x="179.8" textLength="19.0" lengthAdjust="spacing">Alle</tspan><tspan x="202.0" textLength="70.5" lengthAdjust="spacing">Trendkanäle</tspan><tspan x="276.0" textLength="23.5" lengthAdjust="spacing">bzw.</tspan><tspan x="302.8" textLength="37.8" lengthAdjust="spacing">andere</tspan><tspan x="344.0" textLength="37.0" lengthAdjust="spacing">Linien,</tspan><tspan x="384.5" textLength="24.7" lengthAdjust="spacing">oder</tspan><tspan x="412.6" textLength="45.1" lengthAdjust="spacing">Grafiken</tspan><tspan x="461.0" textLength="21.0" lengthAdjust="spacing">hier</tspan><tspan x="485.5" textLength="23.0" lengthAdjust="spacing">sind</tspan><tspan x="512.0" textLength="29.9" lengthAdjust="spacing">keine</tspan><tspan x="545.4" textLength="83.5" lengthAdjust="spacing">Empfehlungen,</tspan><tspan x="632.3" textLength="24.7" lengthAdjust="spacing">oder</tspan><tspan x="660.4" textLength="52.3" lengthAdjust="spacing">Beratung,</tspan><tspan x="716.0" textLength="46.6" lengthAdjust="spacing">sondern</tspan><tspan x="766.2" textLength="15.7" lengthAdjust="spacing">die</tspan><tspan x="785.2" textLength="36.2" lengthAdjust="spacing">zeigen</tspan><tspan x="824.8" textLength="80.4" lengthAdjust="spacing">ausschließlich</tspan><tspan x="908.7" textLength="34.1" lengthAdjust="spacing">meine</tspan><tspan x="946.3" textLength="37.9" lengthAdjust="spacing">eigene</tspan><tspan x="987.7" textLength="49.7" lengthAdjust="spacing">Meinung.</tspan><tspan x="1040.7" textLength="19.6" lengthAdjust="spacing">Alle</tspan><tspan x="1063.6" textLength="60.6" lengthAdjust="spacing">Chartdaten</tspan><tspan x="1127.6" textLength="23.3" lengthAdjust="spacing">sind</tspan><tspan x="1154.4" textLength="27.8" lengthAdjust="spacing">ohne</tspan><tspan x="1185.7" textLength="48.3" lengthAdjust="spacing">Gewähr.</tspan><tspan x="1238.6" textLength="244.6" lengthAdjust="spacing">www.wikifolio.com/de/de/p/cyberwaehrungen</tspan></text>
</svg></body></html>
